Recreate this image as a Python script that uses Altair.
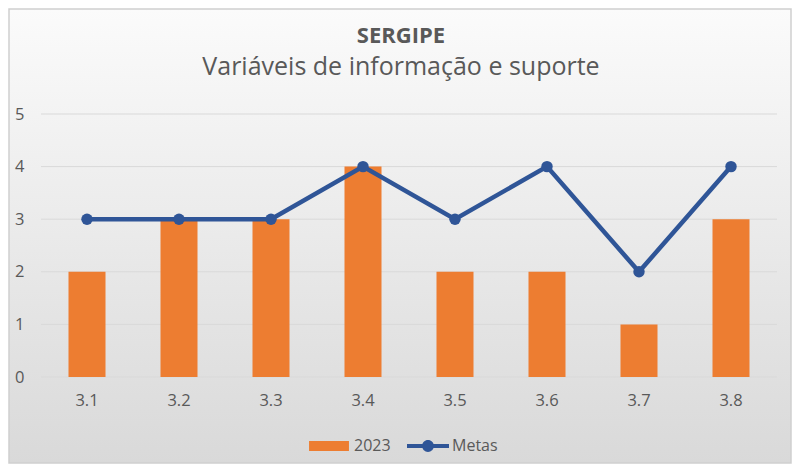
import altair as alt
import pandas as pd

categorias = ["3.1", "3.2", "3.3", "3.4", "3.5", "3.6", "3.7", "3.8"]
valores_2023 = [2, 3, 3, 4, 2, 2, 1, 3]
metas = [3, 3, 3, 4, 3, 4, 2, 4]
ticks_y = [0, 1, 2, 3, 4, 5]

TXT = "#595959"
FONT = "Open Sans"
ORANGE = "#ED7D31"
BLUE = "#2F5597"
W, H = 736, 263
PAD = {"left": 33, "top": 106, "right": 15, "bottom": 87}

df_bar = pd.DataFrame({"cat": categorias, "valor": valores_2023, "serie": ["2023"] * len(categorias)})
df_meta = pd.DataFrame({"cat": categorias, "valor": metas, "serie_m": ["Metas"] * len(categorias)})
df_grid = pd.DataFrame({"v": ticks_y})
df_bg = pd.DataFrame({"a": [0]})

xscale = alt.Scale(domain=categorias, paddingInner=0, paddingOuter=0)
yscale = alt.Scale(domain=[0, 5], nice=False)
yaxis = alt.Axis(title=None, grid=False, ticks=False, domain=False, values=ticks_y, zindex=2,
                 labelFontSize=16.5, labelColor=TXT, labelFont=FONT, labelPadding=17)

grad = alt.LinearGradient(
    gradient="linear",
    stops=[alt.GradientStop(color="#fbfbfb", offset=0), alt.GradientStop(color="#d9d9d9", offset=1)],
    x1=0, x2=0, y1=0, y2=1,
)

bg = alt.Chart(df_bg).mark_rect(fill=grad, stroke="#cfcfcf", strokeWidth=1.5).encode(
    x=alt.value(-32), x2=alt.value(W + 14), y=alt.value(-105), y2=alt.value(H + 86)
)

grid = alt.Chart(df_grid).mark_rule(color="#d9d9d9", strokeWidth=1).encode(
    y=alt.Y("v:Q", scale=yscale, axis=yaxis), x=alt.value(0), x2=alt.value(W)
)

BAR_SYM = "M-0.95,-0.24H0.95V0.24H-0.95Z"
LINE_SYM = "M-1,-0.1H1V0.1H-1Z M-0.28,0A0.28,0.28,0,1,1,0.28,0A0.28,0.28,0,1,1,-0.28,0Z"

bars = alt.Chart(df_bar).mark_bar(size=37).encode(
    x=alt.X("cat:N", scale=xscale, sort=categorias,
            axis=alt.Axis(title=None, labelAngle=0, ticks=False, domain=False, zindex=2,
                          labelFontSize=16.5, labelColor=TXT, labelFont=FONT, labelPadding=15)),
    y=alt.Y("valor:Q", scale=yscale, axis=yaxis),
    color=alt.Color("serie:N", scale=alt.Scale(domain=["2023"], range=[ORANGE]),
                    legend=alt.Legend(title=None, orient="none", direction="horizontal",
                                      legendX=267, legendY=311, padding=0, zindex=2,
                                      symbolType=BAR_SYM, symbolSize=1764, symbolStrokeWidth=0,
                                      labelFontSize=16, labelColor=TXT, labelFont=FONT,
                                      labelOffset=4)),
)

line = alt.Chart(df_meta).mark_line(color=BLUE, strokeWidth=4.5).encode(
    x=alt.X("cat:N", scale=xscale, sort=categorias),
    y=alt.Y("valor:Q", scale=yscale, axis=yaxis),
)
pts = alt.Chart(df_meta).mark_point(filled=True, size=130, opacity=1, strokeWidth=0).encode(
    x=alt.X("cat:N", scale=xscale, sort=categorias),
    y=alt.Y("valor:Q", scale=yscale, axis=yaxis),
    fill=alt.Fill("serie_m:N", scale=alt.Scale(domain=["Metas"], range=[BLUE]),
                  legend=alt.Legend(title=None, orient="none", direction="horizontal",
                                    legendX=366, legendY=311, padding=0, zindex=2,
                                    symbolType=LINE_SYM, symbolSize=1764, symbolStrokeWidth=0,
                                    labelFontSize=16, labelColor=TXT, labelFont=FONT,
                                    labelOffset=3)),
)

chart = alt.layer(bg, grid, bars, line, pts).properties(
    width=W, height=H,
    padding=PAD,
    autosize=alt.AutoSizeParams(type="none"),
    title=alt.TitleParams(
        text="SERGIPE", subtitle="Variáveis de informação e suporte",
        font=FONT, fontSize=22, fontWeight="bold", color=TXT,
        subtitleFont=FONT, subtitleFontSize=25, subtitleColor=TXT,
        anchor="middle", dx=-8, offset=-73, subtitlePadding=7, zindex=2,
    ),
).resolve_scale(color="independent").configure_view(stroke=None).configure(background="white")

chart.save("out.html", embed_options={"renderer": "svg", "actions": False})
